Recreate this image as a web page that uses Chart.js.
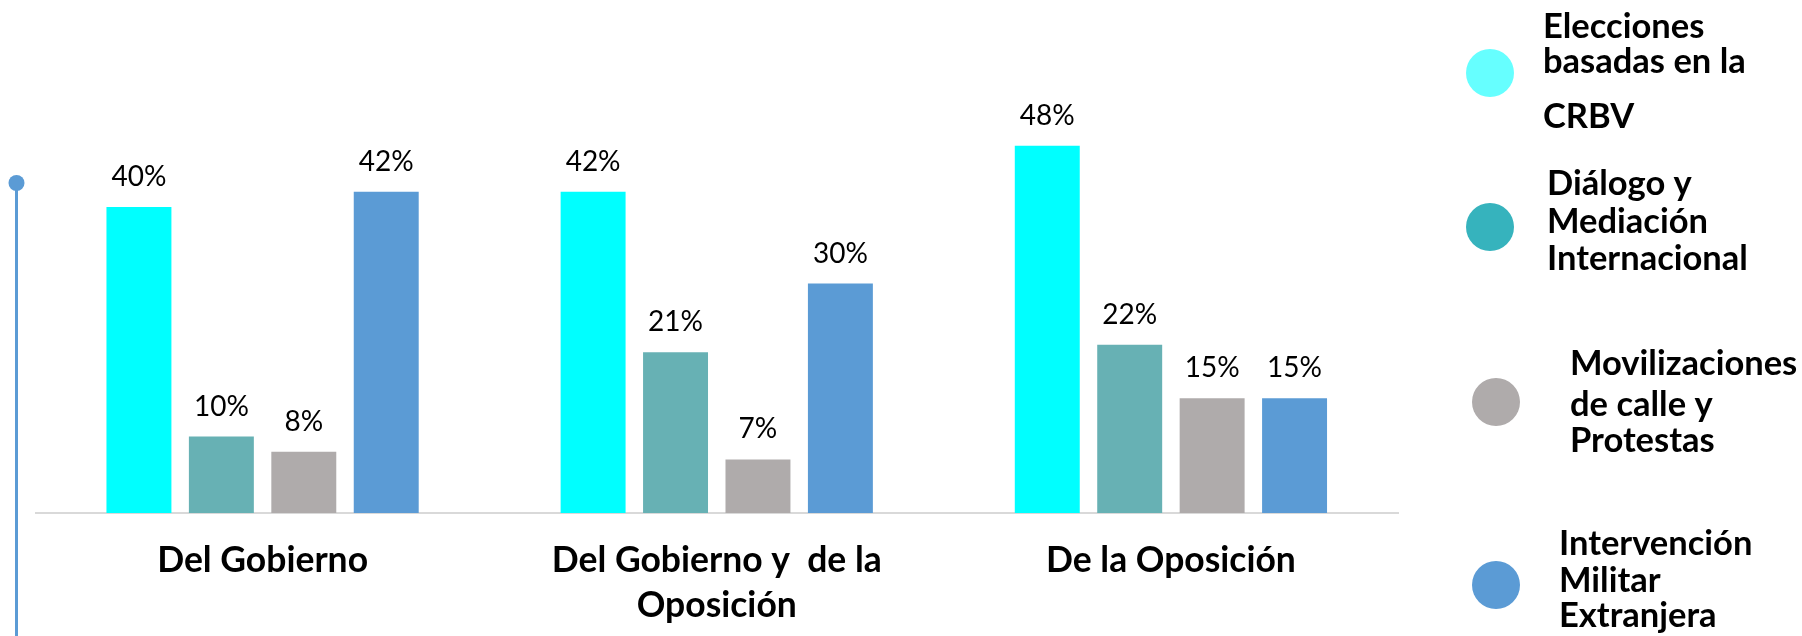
<!DOCTYPE html>
<html>
<head>
<meta charset="utf-8">
<script src="https://cdn.jsdelivr.net/npm/chart.js@4/dist/chart.umd.min.js"></script>
<style>
  html, body { margin: 0; padding: 0; background: #fff; }
  #wrap { width: 1802px; height: 636px; position: relative; }
</style>
</head>
<body>
<div id="wrap"><canvas id="c" width="1802" height="636"></canvas></div>
<script>
// Categories (multi-line labels are arrays of lines)
const categories = [['Del Gobierno'], ['Del Gobierno y  de la', 'Oposición'], ['De la Oposición']];

// Series names and how they wrap in the legend
const seriesNames = [
  'Elecciones basadas en la CRBV',
  'Diálogo y Mediación Internacional',
  'Movilizaciones de calle y Protestas',
  'Intervención Militar Extranjera'
];
const legendLines = [
  ['Elecciones', 'basadas en la', 'CRBV'],
  ['Diálogo y', 'Mediación', 'Internacional'],
  ['Movilizaciones', 'de calle y', 'Protestas'],
  ['Intervención', 'Militar', 'Extranjera']
];

// Percent values per series, one per category
const elecciones     = [40, 42, 48];
const dialogo        = [10, 21, 22];
const movilizaciones = [8, 7, 15];
const intervencion   = [42, 30, 15];

const barColors = ['#00FFFF', '#67B1B4', '#AFABAB', '#5B9BD5'];
const dotColors = ['#66FFFF', '#36B3BD', '#AFABAB', '#5B9BD5'];

const seriesValues = [elecciones, dialogo, movilizaciones, intervencion];

// Value labels above each bar
const valueLabels = {
  id: 'valueLabels',
  afterDatasetsDraw(chart) {
    const ctx = chart.ctx;
    ctx.save();
    ctx.font = '28px Lato';
    ctx.fillStyle = '#000';
    ctx.textAlign = 'center';
    ctx.textBaseline = 'alphabetic';
    chart.data.datasets.forEach((ds, i) => {
      const meta = chart.getDatasetMeta(i);
      meta.data.forEach((bar, j) => {
        ctx.fillText(ds.data[j] + '%', bar.x, bar.y - 21);
      });
    });
    ctx.restore();
  }
};

// Side legend with round markers and the left-hand accent line
const sideDecor = {
  id: 'sideDecor',
  afterDraw(chart) {
    const ctx = chart.ctx;
    ctx.save();
    // accent line with knob
    ctx.strokeStyle = '#5B9BD5';
    ctx.lineWidth = 3;
    ctx.beginPath();
    ctx.moveTo(16.5, 183);
    ctx.lineTo(16.5, 640);
    ctx.stroke();
    ctx.fillStyle = '#5B9BD5';
    ctx.beginPath();
    ctx.arc(16.5, 183, 8, 0, Math.PI * 2);
    ctx.fill();

    // legend entries
    const layout = [
      { cx: 1490, cy: 73,  tx: 1543, ys: [38, 73, 128] },
      { cx: 1490, cy: 227, tx: 1547, ys: [195, 233, 270] },
      { cx: 1496, cy: 402, tx: 1570, ys: [375, 416, 452] },
      { cx: 1496, cy: 585, tx: 1559, ys: [555, 592, 627] }
    ];
    ctx.font = 'bold 34.5px Lato';
    ctx.textAlign = 'left';
    ctx.textBaseline = 'alphabetic';
    layout.forEach((p, i) => {
      ctx.fillStyle = dotColors[i];
      ctx.beginPath();
      ctx.arc(p.cx, p.cy, 24, 0, Math.PI * 2);
      ctx.fill();
      ctx.fillStyle = '#000';
      legendLines[i].forEach((line, k) => ctx.fillText(line, p.tx, p.ys[k]));
    });
    ctx.restore();
  }
};

new Chart(document.getElementById('c'), {
  type: 'bar',
  data: {
    labels: categories,
    datasets: seriesNames.map((name, i) => ({
      label: name,
      data: seriesValues[i],
      backgroundColor: barColors[i],
      borderWidth: 0,
      categoryPercentage: 0.726,
      barPercentage: 0.788
    }))
  },
  options: {
    responsive: false,
    animation: false,
    layout: { padding: { left: 35.5, right: 404, top: 130.5, bottom: 0 } },
    plugins: { legend: { display: false }, tooltip: { enabled: false } },
    scales: {
      x: {
        grid: { display: false, drawTicks: false },
        border: { display: true, color: '#D9D9D9', width: 2 },
        ticks: {
          color: '#000',
          font: { family: 'Lato', weight: 'bold', size: 35.5, lineHeight: 1.27 },
          padding: 25,
          maxRotation: 0,
          autoSkip: false
        },
        afterFit(scale) { scale.height = 123; }
      },
      y: {
        display: false,
        min: 0,
        max: 50
      }
    }
  },
  plugins: [valueLabels, sideDecor]
});
</script>
</body>
</html>
